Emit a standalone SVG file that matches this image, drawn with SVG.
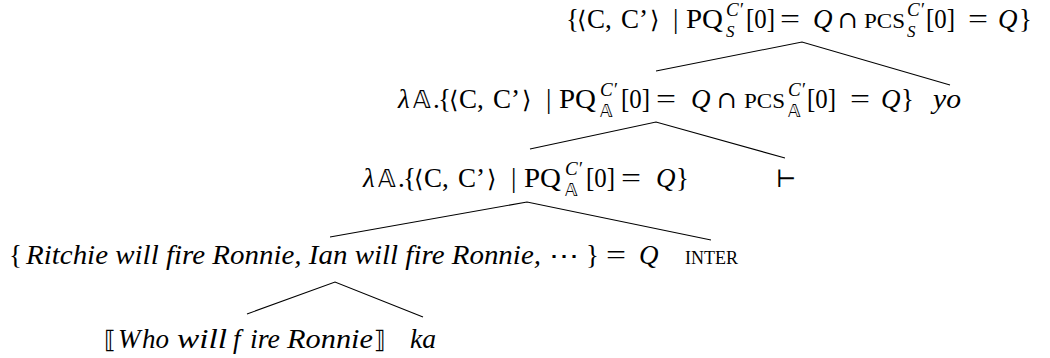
<svg xmlns="http://www.w3.org/2000/svg" width="1050" height="358" viewBox="0 0 1050 358">
<style>
text { font-family: "Liberation Serif", "DejaVu Serif", serif; font-size: 27px; fill: #000; }
.i { font-style: italic; }
.s { font-size: 19px; }
.sb { font-size: 17px; }
.m { font-family: "DejaVu Serif", "DejaVu Sans", serif; font-size: 24px; }
.bb { font-family: "DejaVu Sans", "DejaVu Serif", "Noto Sans", sans-serif; font-size: 24px; }
.bs { font-family: "DejaVu Sans", "DejaVu Serif", "Noto Sans", sans-serif; font-size: 17px; }
.sc { font-size: 20px; }
.edge { fill: none; stroke: #000; stroke-width: 1.1; }
</style>
<rect width="1050" height="358" fill="#fff"/>

<g id="node-root">
  <text><tspan x="566" y="28">{</tspan><tspan x="577" y="28" class="m">⟨</tspan><tspan x="587" y="28">C,</tspan><tspan x="621" y="28">C’</tspan><tspan x="650" y="28" class="m">⟩</tspan><tspan x="673" y="28">|</tspan><tspan x="686" y="28" textLength="37" lengthAdjust="spacingAndGlyphs">PQ</tspan><tspan x="726" y="16" class="i s">C′</tspan><tspan x="726" y="37" class="i sb">S</tspan><tspan x="746" y="28" textLength="29" lengthAdjust="spacingAndGlyphs">[0]</tspan><tspan x="780" y="28" textLength="20" lengthAdjust="spacingAndGlyphs">=</tspan><tspan x="813" y="28" class="i">Q</tspan><tspan x="838" y="28" class="m">∩</tspan><tspan x="864" y="28" class="sc" textLength="41" lengthAdjust="spacingAndGlyphs">PCS</tspan><tspan x="907" y="16" class="i s">C′</tspan><tspan x="907" y="37" class="i sb">S</tspan><tspan x="926" y="28" textLength="29" lengthAdjust="spacingAndGlyphs">[0]</tspan><tspan x="968" y="28" textLength="20" lengthAdjust="spacingAndGlyphs">=</tspan><tspan x="998" y="28" class="i">Q</tspan><tspan x="1019" y="28">}</tspan></text>
</g>

<g id="node-l2">
  <text><tspan x="398" y="108" class="i">λ</tspan><tspan x="413" y="108" class="bb">𝔸</tspan><tspan x="433" y="108">.</tspan><tspan x="438" y="108">{</tspan><tspan x="449" y="108" class="m">⟨</tspan><tspan x="459" y="108">C,</tspan><tspan x="493" y="108">C’</tspan><tspan x="522" y="108" class="m">⟩</tspan><tspan x="546" y="108">|</tspan><tspan x="559" y="108" textLength="37" lengthAdjust="spacingAndGlyphs">PQ</tspan><tspan x="600" y="96" class="i s">C′</tspan><tspan x="600" y="117" class="bs">𝔸</tspan><tspan x="621" y="108" textLength="29" lengthAdjust="spacingAndGlyphs">[0]</tspan><tspan x="656" y="108" textLength="20" lengthAdjust="spacingAndGlyphs">=</tspan><tspan x="691" y="108" class="i">Q</tspan><tspan x="717" y="108" class="m">∩</tspan><tspan x="744" y="108" class="sc" textLength="41" lengthAdjust="spacingAndGlyphs">PCS</tspan><tspan x="788" y="96" class="i s">C′</tspan><tspan x="788" y="117" class="bs">𝔸</tspan><tspan x="807" y="108" textLength="29" lengthAdjust="spacingAndGlyphs">[0]</tspan><tspan x="850" y="108" textLength="20" lengthAdjust="spacingAndGlyphs">=</tspan><tspan x="881" y="108" class="i">Q</tspan><tspan x="901" y="108">}</tspan></text>
</g>

<g id="node-yo">
  <text x="933" y="108" class="i" textLength="28" lengthAdjust="spacingAndGlyphs">yo</text>
</g>

<g id="node-l3">
  <text><tspan x="363" y="187" class="i">λ</tspan><tspan x="378" y="187" class="bb">𝔸</tspan><tspan x="398" y="187">.</tspan><tspan x="403" y="187">{</tspan><tspan x="414" y="187" class="m">⟨</tspan><tspan x="424" y="187">C,</tspan><tspan x="458" y="187">C’</tspan><tspan x="487" y="187" class="m">⟩</tspan><tspan x="511" y="187">|</tspan><tspan x="524" y="187" textLength="37" lengthAdjust="spacingAndGlyphs">PQ</tspan><tspan x="565" y="175" class="i s">C′</tspan><tspan x="565" y="196" class="bs">𝔸</tspan><tspan x="586" y="187" textLength="29" lengthAdjust="spacingAndGlyphs">[0]</tspan><tspan x="621" y="187" textLength="20" lengthAdjust="spacingAndGlyphs">=</tspan><tspan x="656" y="187" class="i">Q</tspan><tspan x="676" y="187">}</tspan></text>
</g>

<g id="node-turnstile">
  <text x="776" y="187" class="m">⊢</text>
</g>

<g id="node-l4">
  <text><tspan x="9" y="264">{</tspan><tspan x="26" y="264" class="i" textLength="515" lengthAdjust="spacingAndGlyphs">Ritchie will fire Ronnie, Ian will fire Ronnie,</tspan><tspan x="549" y="264" class="m" textLength="30" lengthAdjust="spacingAndGlyphs">⋯</tspan><tspan x="586" y="264">}</tspan><tspan x="606" y="264" textLength="20" lengthAdjust="spacingAndGlyphs">=</tspan><tspan x="639" y="264" class="i">Q</tspan></text>
</g>

<g id="node-inter">
  <text x="685" y="264" class="s" textLength="53" lengthAdjust="spacingAndGlyphs">INTER</text>
</g>

<g id="node-who">
  <text><tspan x="104" y="348" class="m">⟦</tspan><tspan x="118" y="348" class="i">W</tspan><tspan x="142" y="348" class="i" textLength="27" lengthAdjust="spacingAndGlyphs">ho</tspan><tspan x="177" y="348" class="i" textLength="50" lengthAdjust="spacingAndGlyphs">will</tspan><tspan x="233" y="348" class="i">f</tspan><tspan x="250" y="348" class="i" textLength="30" lengthAdjust="spacingAndGlyphs">ire</tspan><tspan x="287" y="348" class="i" textLength="86" lengthAdjust="spacingAndGlyphs">Ronnie</tspan><tspan x="374" y="348" class="m">⟧</tspan></text>
</g>

<g id="node-ka">
  <text x="410" y="348" class="i" textLength="26" lengthAdjust="spacingAndGlyphs">ka</text>
</g>

<g id="connectors">
  <polyline class="edge" points="656,71 802,42 950,85"/>
  <polyline class="edge" points="530,149 656,122 785,158"/>
  <polyline class="edge" points="330,237 527,202 711,240"/>
  <polyline class="edge" points="247,314 335,282 423,317"/>
</g>
</svg>
